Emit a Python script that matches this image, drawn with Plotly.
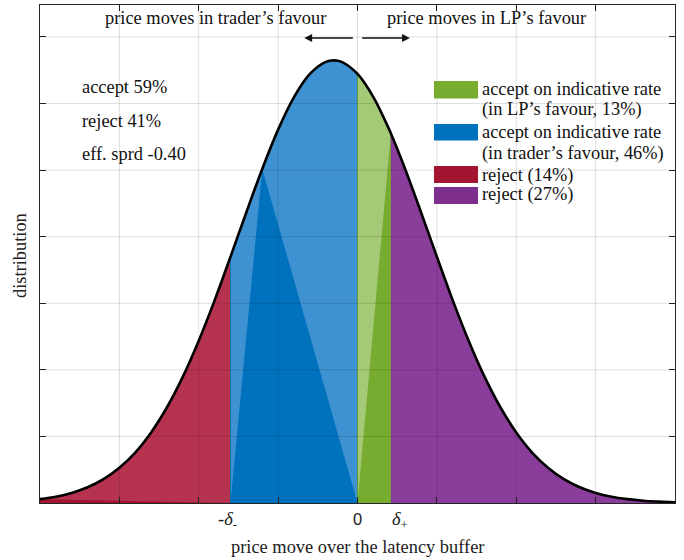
import numpy as np
import plotly.graph_objects as go

# ---- data ----
curve_x = [-4.0, -3.8, -3.6, -3.4, -3.2, -3.0, -2.8, -2.6, -2.4, -2.2, -2.0, -1.8, -1.6,
           -1.4, -1.2, -1.0, -0.8, -0.6, -0.4, -0.3, -0.2, 0.0, 0.2, 0.4, 0.42, 0.6, 0.8,
           1.0, 1.2, 1.4, 1.6, 1.8, 2.0, 2.2, 2.4, 2.6, 2.8, 3.0, 3.2, 3.4, 3.6, 3.8, 4.0]
curve_y = [0.0029, 0.0047, 0.0076, 0.0118, 0.0179, 0.0265, 0.0379, 0.0530, 0.0719, 0.0949,
           0.1219, 0.1522, 0.1849, 0.2184, 0.2509, 0.2804, 0.3048, 0.3222, 0.3313, 0.3324,
           0.3313, 0.3222, 0.3048, 0.2804, 0.2777, 0.2509, 0.2184, 0.1849, 0.1522, 0.1219,
           0.0949, 0.0719, 0.0530, 0.0379, 0.0265, 0.0179, 0.0118, 0.0076, 0.0047, 0.0029,
           0.0017, 0.0010, 0.0005]
delta_minus = 1.6
delta_plus = 0.42
blue_apex_x = -1.2          # curve point where the solid blue fan triangle meets the curve

grid_x = [-3, -2, -1, 0, 1, 2, 3]
grid_y = [0.05, 0.10, 0.15, 0.20, 0.25, 0.30, 0.35]
y_max = 0.374

stats_text = ["accept 59%", "reject 41%", "eff. sprd -0.40"]
legend_lines = [["accept on indicative rate", "(in LP\u2019s favour, 13%)"],
                ["accept on indicative rate", "(in trader\u2019s favour, 46%)"],
                ["reject (14%)"],
                ["reject (27%)"]]
top_labels = ["price moves in trader\u2019s favour", "price moves in LP\u2019s favour"]

# ---- colours ----
C_GREEN, C_BLUE, C_RED, C_PURPLE = "#77AC30", "#0072BD", "#A2142F", "#7E2F8E"
L_GREEN, L_BLUE, L_RED, L_PURPLE = "#a4c977", "#3f92d1", "#b5334f", "#8b3d9c"
SERIF = "Liberation Serif"
FS = 18.4
AX = "#262626"
TXT = "#111111"

cx = np.array(curve_x)
cy = np.array(curve_y)

def region(lo, hi):
    m = (cx >= lo - 1e-9) & (cx <= hi + 1e-9)
    xs = np.concatenate([[cx[m][0]], cx[m], [cx[m][-1]]])
    ys = np.concatenate([[0.0], cy[m], [0.0]])
    return xs, ys

def f_at(xv):
    return float(cy[np.argmin(np.abs(cx - xv))])

fig = go.Figure()

regions = [
    (cx[0], -delta_minus, L_RED, C_RED),
    (-delta_minus, 0.0, L_BLUE, C_BLUE),
    (0.0, delta_plus, L_GREEN, C_GREEN),
    (delta_plus, cx[-1], L_PURPLE, C_PURPLE),
]
for lo, hi, lc, dc in regions:
    xs, ys = region(lo, hi)
    fig.add_trace(go.Scatter(x=xs, y=ys, mode="lines", fill="toself", fillcolor=lc,
                             line=dict(color=dc, width=0.8), hoverinfo="skip", showlegend=False))

# solid parts of the fan-rendered patches
tris = [
    ([cx[0], cx[0], -delta_minus], [0, cy[0], 0], C_RED),
    ([-delta_minus, blue_apex_x, 0.0], [0, f_at(blue_apex_x), 0], C_BLUE),
    ([0.0, delta_plus, delta_plus], [0, 0, f_at(delta_plus)], C_GREEN),
]
for tx, ty, col in tris:
    fig.add_trace(go.Scatter(x=tx, y=ty, mode="lines", fill="toself", fillcolor=col,
                             line=dict(width=0), hoverinfo="skip", showlegend=False))

# the density curve
fig.add_trace(go.Scatter(x=cx, y=cy, mode="lines", line=dict(color="black", width=2.6, shape="spline"),
                         hoverinfo="skip", showlegend=False))

shapes = []
for gx in grid_x:
    shapes.append(dict(type="line", xref="x", yref="paper", x0=gx, x1=gx, y0=0, y1=1,
                       line=dict(color="rgba(0,0,0,0.13)", width=1), layer="above"))
for gy in grid_y:
    shapes.append(dict(type="line", xref="paper", yref="y", x0=0, x1=1, y0=gy, y1=gy,
                       line=dict(color="rgba(0,0,0,0.13)", width=1), layer="above"))

# pixel-measured positions -> paper
W, H, L, T = 635.0, 498.0, 40.0, 5.0
def px(xp): return (xp - L) / W
def py(yp): return (T + H - yp) / H

sw_cols = [C_GREEN, C_BLUE, C_RED, C_PURPLE]
sw_tops = [81, 124, 166, 187]
sw_bots = [98.5, 140.5, 183, 204]
for col, t, b in zip(sw_cols, sw_tops, sw_bots):
    shapes.append(dict(type="rect", xref="paper", yref="paper", x0=px(434), x1=px(478),
                       y0=py(b), y1=py(t), fillcolor=col, line=dict(width=0), layer="above"))

annotations = []
line_centres = [[89, 110], [132, 153], [175], [195]]
for lines, centres in zip(legend_lines, line_centres):
    for s, c in zip(lines, centres):
        annotations.append(dict(xref="paper", yref="paper", x=px(480), y=py(c), xanchor="left",
                                yanchor="middle", text=s, showarrow=False,
                                font=dict(family=SERIF, size=FS, color=TXT)))

for s, yy in zip(stats_text, [87, 121, 154]):
    annotations.append(dict(xref="paper", yref="paper", x=px(80), y=py(yy), xanchor="left",
                            yanchor="middle", text=s, showarrow=False,
                            font=dict(family=SERIF, size=FS, color=TXT)))

for s, xc in zip(top_labels, [215, 487]):
    annotations.append(dict(xref="paper", yref="paper", x=px(xc), y=py(18), text=s,
                            xanchor="center", yanchor="middle", showarrow=False,
                            font=dict(family=SERIF, size=FS, color=TXT)))

# arrows
arrow_y = 0.3492
annotations.append(dict(x=-0.67, y=arrow_y, ax=-0.04, ay=arrow_y, xref="x", yref="y",
                        axref="x", ayref="y", text="", showarrow=True, arrowhead=2,
                        arrowsize=1.2, arrowwidth=1.3, arrowcolor=TXT))
annotations.append(dict(x=0.66, y=arrow_y, ax=0.04, ay=arrow_y, xref="x", yref="y",
                        axref="x", ayref="y", text="", showarrow=True, arrowhead=2,
                        arrowsize=1.2, arrowwidth=1.3, arrowcolor=TXT))

# tick labels
annotations.append(dict(x=-delta_minus, y=-0.008, xref="x", yref="paper", yanchor="top",
                        xanchor="center", xshift=-3, text="-<i>\u03b4</i><sub>-</sub>", showarrow=False,
                        font=dict(family=SERIF, size=FS, color="#222")))
annotations.append(dict(x=0, y=-0.01, xref="x", yref="paper", yanchor="top",
                        xanchor="center", text="0", showarrow=False,
                        font=dict(family="Liberation Sans", size=16.5, color="#222")))
annotations.append(dict(x=delta_plus, y=-0.008, xref="x", yref="paper", yanchor="top",
                        xanchor="left", xshift=-1, text="<i>\u03b4</i><sub>+</sub>", showarrow=False,
                        font=dict(family=SERIF, size=FS, color="#222")))

# axis titles
annotations.append(dict(xref="paper", yref="paper", x=px(357), y=py(547), text="price move over the latency buffer",
                        xanchor="center", yanchor="middle",
                        showarrow=False, font=dict(family=SERIF, size=FS, color="#222")))
annotations.append(dict(xref="paper", yref="paper", x=px(20), y=py(256), text="distribution",
                        xanchor="center", yanchor="middle",
                        textangle=-90, showarrow=False, font=dict(family=SERIF, size=FS, color="#222")))

fig.update_xaxes(range=[-4, 4], tickvals=grid_x, ticks="inside", ticklen=6, tickwidth=1,
                 tickcolor=AX, showticklabels=False, showline=True, linecolor=AX, linewidth=1.3,
                 mirror="ticks", showgrid=False, zeroline=False)
fig.update_yaxes(range=[0, y_max], tickvals=grid_y, ticks="inside", ticklen=6, tickwidth=1,
                 tickcolor=AX, showticklabels=False, showline=True, linecolor=AX, linewidth=1.3,
                 mirror="ticks", showgrid=False, zeroline=False)

fig.update_layout(width=684, height=560, autosize=False,
                  margin=dict(l=40, r=9, t=5, b=57),
                  paper_bgcolor="white", plot_bgcolor="white",
                  shapes=shapes, annotations=annotations, showlegend=False)

fig.write_html("out.html")
